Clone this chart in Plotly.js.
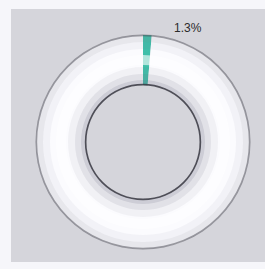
<!DOCTYPE html>
<html><head><meta charset="utf-8">
<script src="https://cdn.plot.ly/plotly-3.0.1.min.js"></script>
<style>
html,body{margin:0;padding:0;background:#f6f6fa;width:265px;height:269px;overflow:hidden}
#chart{position:absolute;left:11px;top:9px;width:254px;height:253px}
</style></head><body>
<div id="chart"></div>
<script>
// data
const labels = ["Share", "Rest"];
const values = [1.3, 98.7];
const sliceColors = ["#3fbfa9", "#fbfbfe"];

// geometry (pixels inside the plot div)
const W = 254, H = 253;
const CX = 132, CY = 133, R_OUT = 107, R_IN = 57;

function dom(r) {
  return {x: [(CX - r) / W, (CX + r) / W], y: [(H - CY - r) / H, (H - CY + r) / H]};
}
function ring(rIn, rOut, color) {
  return {type: 'pie', values: [1], labels: ['ring'], hole: rIn / rOut, domain: dom(rOut),
    marker: {colors: [color], line: {width: 0}}, textinfo: 'none', hoverinfo: 'skip',
    sort: false, showlegend: false};
}

const main = {
  type: 'pie', labels: labels, values: values, hole: R_IN / R_OUT, domain: dom(R_OUT),
  direction: 'clockwise', rotation: 0, sort: false,
  marker: {colors: sliceColors, line: {width: 0}},
  textinfo: 'none', hoverinfo: 'label+percent', showlegend: false
};

// shading layers (decoration)
const shades = [
  ring(R_IN, R_IN + 5, 'rgba(110,110,130,0.32)'),
  ring(R_IN + 5, R_IN + 11, 'rgba(110,110,130,0.18)'),
  ring(R_IN + 11, R_IN + 18, 'rgba(110,110,130,0.07)'),
  ring(R_IN + 20, R_IN + 30, 'rgba(255,255,255,0.6)'),
  ring(R_OUT - 14, R_OUT - 7, 'rgba(110,110,130,0.06)'),
  ring(R_OUT - 7, R_OUT, 'rgba(110,110,130,0.14)'),
  ring(R_IN - 0.5, R_IN + 1.2, 'rgba(55,55,65,0.85)'),
  ring(R_OUT - 1.2, R_OUT + 0.5, 'rgba(70,70,80,0.5)')
];

const layout = {
  width: W, height: H,
  margin: {l: 0, r: 0, t: 0, b: 0},
  paper_bgcolor: '#d5d5db',
  showlegend: false,
  annotations: [{
    text: values[0].toFixed(1) + '%', xref: 'paper', yref: 'paper',
    x: 177 / W, y: 1 - 18.5 / H, xanchor: 'center', yanchor: 'middle', showarrow: false,
    font: {family: 'Liberation Sans, Arial, sans-serif', size: 12, color: '#2b2b2b'}
  }]
};
Plotly.newPlot('chart', [main].concat(shades), layout, {displayModeBar: false, staticPlot: true});
</script></body></html>
